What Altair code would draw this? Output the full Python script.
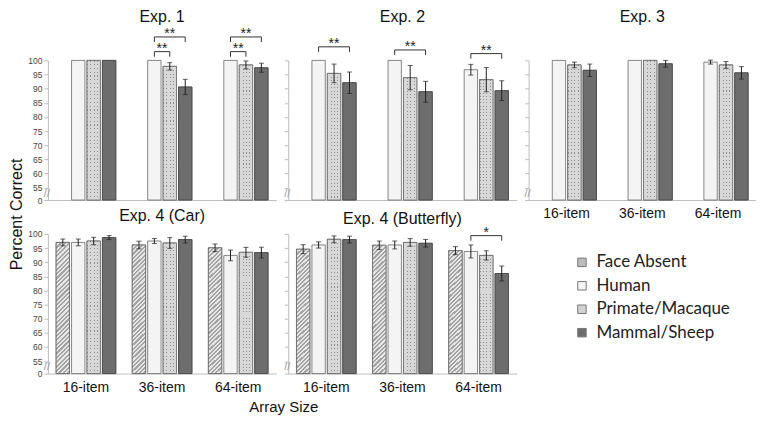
import altair as alt
import pandas as pd

SIZES = ["16-item", "36-item", "64-item"]
CONDS = ["Face Absent", "Human", "Primate/Macaque", "Mammal/Sheep"]
PANELS = ["Exp. 1", "Exp. 2", "Exp. 3", "Exp. 4 (Car)", "Exp. 4 (Butterfly)"]

# percent correct (mean) and error-bar half widths, per size (16, 36, 64)
exp1_h = [100, 100, 100]
exp1_p = [100, 97.9, 98.4]
exp1_m = [100, 90.6, 97.4]
exp1_h_err = [0, 0, 0]
exp1_p_err = [0, 1.3, 1.4]
exp1_m_err = [0, 2.7, 1.6]

exp2_h = [100, 100, 96.7]
exp2_p = [95.4, 93.9, 93.2]
exp2_m = [92.1, 88.9, 89.3]
exp2_h_err = [0, 0, 1.9]
exp2_p_err = [3.3, 4.3, 4.3]
exp2_m_err = [3.8, 3.7, 3.5]

exp3_h = [100, 100, 99.4]
exp3_p = [98.4, 100, 98.4]
exp3_m = [96.5, 98.8, 95.6]
exp3_h_err = [0, 0, 0.7]
exp3_p_err = [1.0, 0, 1.2]
exp3_m_err = [2.2, 1.2, 2.2]

car_fa = [97.0, 96.1, 95.1]
car_h = [97.0, 97.5, 92.4]
car_p = [97.5, 96.8, 93.5]
car_m = [98.7, 98.0, 93.4]
car_fa_err = [1.2, 1.35, 1.35]
car_h_err = [1.2, 0.9, 1.9]
car_p_err = [1.3, 1.9, 1.75]
car_m_err = [0.7, 1.2, 1.9]

bfly_fa = [94.6, 96.0, 94.1]
bfly_h = [96.1, 96.1, 93.8]
bfly_p = [98.1, 97.0, 92.4]
bfly_m = [98.0, 96.7, 86.0]
bfly_fa_err = [1.6, 1.5, 1.4]
bfly_h_err = [1.1, 1.4, 2.3]
bfly_p_err = [1.2, 1.35, 1.65]
bfly_m_err = [1.2, 1.35, 2.65]

# significance brackets (from Human to another condition)
br_exp = ["Exp. 1", "Exp. 1", "Exp. 1", "Exp. 1", "Exp. 2", "Exp. 2", "Exp. 2", "Exp. 4 (Butterfly)"]
br_size = ["36-item", "36-item", "64-item", "64-item", "16-item", "36-item", "64-item", "64-item"]
br_to = ["Primate/Macaque", "Mammal/Sheep", "Primate/Macaque", "Mammal/Sheep",
         "Mammal/Sheep", "Mammal/Sheep", "Mammal/Sheep", "Mammal/Sheep"]
br_level = [103.1, 108.3, 103.1, 108.3, 104.8, 103.7, 102.4, 99.4]
br_label = ["**", "**", "**", "**", "**", "**", "**", "*"]

# y-axis tick labels (axis is broken between 0 and 55)
y_labels = [0, 55, 60, 65, 70, 75, 80, 85, 90, 95, 100]

# ---------------------------------------------------------------- tables
series = {
    "Exp. 1": {"Human": (exp1_h, exp1_h_err), "Primate/Macaque": (exp1_p, exp1_p_err),
               "Mammal/Sheep": (exp1_m, exp1_m_err)},
    "Exp. 2": {"Human": (exp2_h, exp2_h_err), "Primate/Macaque": (exp2_p, exp2_p_err),
               "Mammal/Sheep": (exp2_m, exp2_m_err)},
    "Exp. 3": {"Human": (exp3_h, exp3_h_err), "Primate/Macaque": (exp3_p, exp3_p_err),
               "Mammal/Sheep": (exp3_m, exp3_m_err)},
    "Exp. 4 (Car)": {"Face Absent": (car_fa, car_fa_err), "Human": (car_h, car_h_err),
                     "Primate/Macaque": (car_p, car_p_err), "Mammal/Sheep": (car_m, car_m_err)},
    "Exp. 4 (Butterfly)": {"Face Absent": (bfly_fa, bfly_fa_err), "Human": (bfly_h, bfly_h_err),
                           "Primate/Macaque": (bfly_p, bfly_p_err), "Mammal/Sheep": (bfly_m, bfly_m_err)},
}
rows = []
for ex, conds in series.items():
    for c, (vals, errs) in conds.items():
        for s, v, e in zip(SIZES, vals, errs):
            rows.append({"exp": ex, "cond": c, "size": s, "v": v, "e": e})
df = pd.DataFrame(rows)

brows = []
for i, (ex, s, to, lv, lab) in enumerate(zip(br_exp, br_size, br_to, br_level, br_label)):
    pts = [("Human", 0), ("Human", 1), (to, 1), (to, 0)]
    for o, (c, up) in enumerate(pts):
        brows.append({"exp": ex, "bid": i, "o": o, "size": s, "cond": c, "lv": lv, "up": up,
                      "label": lab, "span": "wide" if to == "Mammal/Sheep" else "narrow"})
bdf = pd.DataFrame(brows)

# ---------------------------------------------------------------- styling
BREAK = 50.6          # axis break: 55 sits just above 0
TOP = 100 - BREAK
TICKS = [0 if v == 0 else round(v - BREAK, 1) for v in y_labels]
PANEL_H = 140
GRAY = "#bdbdbd"
FONT = "Liberation Sans"
STAR_DY = 1


def stripes(c1, c2, period, frac, maxoff):
    stops, k = [], 0
    while k * period < maxoff:
        a = k * period
        b = a + period * frac
        c = (k + 1) * period
        stops += [{"offset": a, "color": c1}, {"offset": b, "color": c1},
                  {"offset": b, "color": c2}, {"offset": min(c, 1), "color": c2}]
        k += 1
    return stops


HATCH = {"gradient": "linear", "x1": 0, "y1": 0, "x2": 1, "y2": 9.8,
         "stops": stripes("#a4a4a4", "#e6e6e6", 0.0034, 0.5, 0.13)}
DOT_ROWS = {"gradient": "linear", "x1": 0, "y1": 0, "x2": 0, "y2": 1,
            "stops": stripes("#8e8e8e", "#d8d8d8", 0.027, 0.3, 1.0)}
DOT_COLS = {"gradient": "linear", "x1": 0, "y1": 0, "x2": 1, "y2": 0,
            "stops": stripes("rgba(216,216,216,0)", "#d8d8d8", 0.25, 0.3, 1.0)}

COLORS = ["#bcbcbc", "#f4f4f4", "#d2d2d2", "#6d6d6d"]

xs = alt.Scale(domain=SIZES, paddingInner=0, paddingOuter=0)
xos = alt.Scale(domain=CONDS, paddingInner=0.133, paddingOuter=0.533)
ys = alt.Scale(domain=[0, TOP], nice=False, zero=True)
cs = alt.Scale(domain=CONDS, range=COLORS)

LEGEND = alt.Legend(orient="none", legendX=527, legendY=194, title=None,
                    symbolType="square", symbolSize=72, symbolStrokeColor="#777",
                    symbolStrokeWidth=1, symbolOpacity=1,
                    labelFont="Lato", labelFontSize=17, labelColor="#222",
                    labelOffset=6, rowPadding=5.5)


def panel(name, width, show_y, show_x, ytitle=False, xtitle=False, title_offset=6):
    d = df[df.exp == name]
    b = bdf[bdf.exp == name]

    yaxis = alt.Axis(values=TICKS, labels=show_y, ticks=True, tickSize=4, tickColor=GRAY,
                     domainColor=GRAY, grid=False, labelFontSize=8.5, labelFont=FONT,
                     labelColor="#444444", labelPadding=2, labelOverlap=False,
                     labelExpr=f"datum.value < 1 ? '0' : '' + round(datum.value + {BREAK})",
                     title="Percent Correct" if ytitle else None,
                     titleFont=FONT, titleFontSize=16, titleFontWeight="normal",
                     titleColor="#111", titlePadding=3,
                     **({"titleY": 154} if ytitle else {}))
    xaxis = alt.Axis(labels=show_x, ticks=False, domainColor=GRAY, labelAngle=0,
                     labelFont=FONT, labelFontSize=14, labelColor="#111", labelPadding=7,
                     title="Array Size" if xtitle else None,
                     titleFont=FONT, titleFontSize=15, titleFontWeight="normal",
                     titleColor="#111", titlePadding=5,
                     **({"titleX": 236} if xtitle else {}))

    X = alt.X("size:N", scale=xs, axis=xaxis)
    XO = alt.XOffset("cond:N", scale=xos)

    def Y(f):
        return alt.Y(f, scale=ys, axis=yaxis)

    base = alt.Chart(d).transform_calculate(
        t=f"datum.v - {BREAK}",
        lo=f"datum.v - datum.e - {BREAK}",
        hi=f"datum.v + datum.e - {BREAK}",
    )
    layers = [
        base.mark_bar(stroke="#6a6a6a", strokeWidth=0.8).encode(
            x=X, xOffset=XO, y=Y("t:Q"),
            color=alt.Color("cond:N", scale=cs, legend=LEGEND)),
    ]
    if "Face Absent" in set(d.cond):
        layers.append(base.transform_filter("datum.cond == 'Face Absent'").mark_bar(
            fill=HATCH, stroke="#6a6a6a", strokeWidth=0.8).encode(x=X, xOffset=XO, y=Y("t:Q")))
    layers.append(base.transform_filter("datum.cond == 'Primate/Macaque'").mark_bar(
        fill=DOT_ROWS, strokeWidth=0).encode(x=X, xOffset=XO, y=Y("t:Q")))
    layers.append(base.transform_filter("datum.cond == 'Primate/Macaque'").mark_bar(
        fill=DOT_COLS, stroke="#6a6a6a", strokeWidth=0.8).encode(x=X, xOffset=XO, y=Y("t:Q")))
    layers.append(base.mark_bar(fillOpacity=0, stroke="#454545", strokeWidth=0.8)
                  .transform_filter("datum.cond == 'Mammal/Sheep'")
                  .encode(x=X, xOffset=XO, y=Y("t:Q")))

    eb = base.transform_filter("datum.e > 0")
    layers.append(eb.mark_rule(color="#222", strokeWidth=1).encode(
        x=X, xOffset=XO, y=Y("lo:Q"), y2="hi:Q"))
    layers.append(eb.mark_tick(color="#222", thickness=1, size=5).encode(
        x=X, xOffset=XO, y=Y("lo:Q")))
    layers.append(eb.mark_tick(color="#222", thickness=1, size=5).encode(
        x=X, xOffset=XO, y=Y("hi:Q")))

    if len(b):
        bb = alt.Chart(b).transform_calculate(
            by=f"datum.lv - {BREAK} - (1 - datum.up) * 1.8",
            bt=f"datum.lv - {BREAK}")
        layers.append(bb.mark_line(color="#333", strokeWidth=1).encode(
            x=X, xOffset=XO, y=Y("by:Q"), detail="bid:N", order="o:Q"))
        wide = bb.transform_filter("datum.o == 1 && datum.span == 'wide'")
        layers.append(wide.transform_calculate(tc="'Primate/Macaque'").mark_text(
            font=FONT, fontSize=14, baseline="alphabetic", dy=STAR_DY, color="#222").encode(
            x=X, xOffset=alt.XOffset("tc:N", scale=xos), y=Y("bt:Q"), text="label:N"))
        narrow = bb.transform_filter("datum.o == 1 && datum.span == 'narrow'")
        layers.append(narrow.mark_text(
            font=FONT, fontSize=14, baseline="alphabetic", dy=STAR_DY, dx=7.7, color="#222").encode(
            x=X, xOffset=XO, y=Y("bt:Q"), text="label:N"))

    layers.append(alt.Chart(pd.DataFrame({"k": [2.2]})).mark_text(
        text="//", font=FONT, fontSize=11, color="#9a9a9a", dx=-1).encode(
        x=alt.value(0), y=Y("k:Q")))

    return alt.layer(*layers).properties(
        width=width, height=PANEL_H,
        title=alt.TitleParams(name, font=FONT, fontSize=16, fontWeight="normal",
                              color="#111", offset=title_offset, anchor="middle",
                              frame="group"))


p1 = panel("Exp. 1", 229, True, False, ytitle=True, title_offset=2)
p2 = panel("Exp. 2", 229, False, False, title_offset=12)
p3 = panel("Exp. 3", 228, False, True, title_offset=35)
p4 = panel("Exp. 4 (Car)", 229, True, True, xtitle=True, title_offset=6)
p5 = panel("Exp. 4 (Butterfly)", 229, False, True, title_offset=-1.5)

chart = alt.concat(p1, p2, p3, p4, p5, columns=3, spacing={"row": 34, "column": 12},
                   bounds="flush").properties(
    padding={"left": 0, "top": 0, "right": 0, "bottom": 0}, background="white"
).configure_view(stroke=None)

chart.save("out.html", embed_options={"renderer": "svg", "actions": False})
